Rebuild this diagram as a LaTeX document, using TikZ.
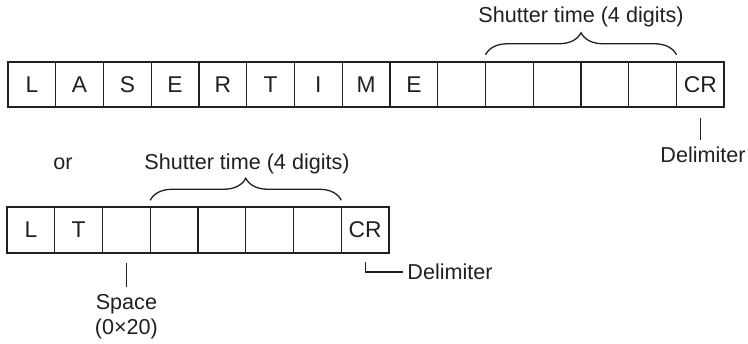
\documentclass[tikz,border=0pt]{standalone}
\usepackage{fontspec}
\setmainfont{Liberation Sans}
\usetikzlibrary{decorations.pathreplacing}
\definecolor{ink}{HTML}{231F20}

\begin{document}
\begin{tikzpicture}[
    x=0.5pt, y=0.5pt,
    font=\fontsize{10.8}{12.5}\selectfont,
    every node/.style={text=ink},
    cell/.style={draw=ink, line width=0.65pt, minimum width=23.875pt, minimum height=22.75pt, inner sep=0pt, outer sep=0pt, font=\fontsize{11.4}{13}\selectfont},
    frame/.style={draw=ink, line width=1pt},
    lead/.style={draw=ink, line width=0.6pt},
    curly/.style={draw=ink, line width=0.65pt, decorate, decoration={brace, amplitude=11pt}}
]
    \useasboundingbox (0,0) rectangle (748,343);

    % first form: LASERTIME
    \node[cell] (t1) at (31.9, 258.5) {L};
    \node[cell] (t2) at (79.6, 258.5) {A};
    \node[cell] (t3) at (127.4, 258.5) {S};
    \node[cell] (t4) at (175.1, 258.5) {E};
    \node[cell] (t5) at (222.9, 258.5) {R};
    \node[cell] (t6) at (270.6, 258.5) {T};
    \node[cell] (t7) at (318.4, 258.5) {I};
    \node[cell] (t8) at (366.1, 258.5) {M};
    \node[cell] (t9) at (413.9, 258.5) {E};
    \node[cell] (t10) at (461.6, 258.5) {};
    \node[cell] (t11) at (509.4, 258.5) {};
    \node[cell] (t12) at (557.1, 258.5) {};
    \node[cell] (t13) at (604.9, 258.5) {};
    \node[cell] (t14) at (652.6, 258.5) {};
    \node[cell] (t15) at (700.4, 258.5) {CR};
    \draw[frame] (t1.north west) rectangle (t15.south east);

    \draw[curly] ([yshift=3.5pt]t11.north west) -- ([yshift=3.5pt]t14.north east);
    \node[anchor=base] (shuttop) at (581, 320) {Shutter time (4 digits)};

    \node[anchor=north] (deltop) at (703, 203) {Delimiter};
    \draw[lead] ([yshift=-5.5pt]t15.south) -- (t15.south |- deltop.north);

    % second form: LT
    \node[anchor=base] (or) at (63, 174) {or};

    \node[cell] (b1) at (30.9, 113) {L};
    \node[cell] (b2) at (78.6, 113) {T};
    \node[cell] (b3) at (126.4, 113) {};
    \node[cell] (b4) at (174.1, 113) {};
    \node[cell] (b5) at (221.9, 113) {};
    \node[cell] (b6) at (269.6, 113) {};
    \node[cell] (b7) at (317.4, 113) {};
    \node[cell] (b8) at (365.1, 113) {CR};
    \draw[frame] (b1.north west) rectangle (b8.south east);

    \draw[curly] ([yshift=3.5pt]b4.north west) -- ([yshift=3.5pt]b7.north east);
    \node[anchor=base] (shutbot) at (247, 174) {Shutter time (4 digits)};

    \node[anchor=north, align=center] (space) at (126.4, 56) {Space\\(0×20)};
    \draw[lead] ([yshift=-5pt]b3.south) -- (space.north);

    \node[anchor=west, inner sep=2pt] (delbot) at (403, 71) {Delimiter};
    \draw[lead] ([yshift=-4.5pt]b8.south) |- (delbot.west);
\end{tikzpicture}
\end{document}
